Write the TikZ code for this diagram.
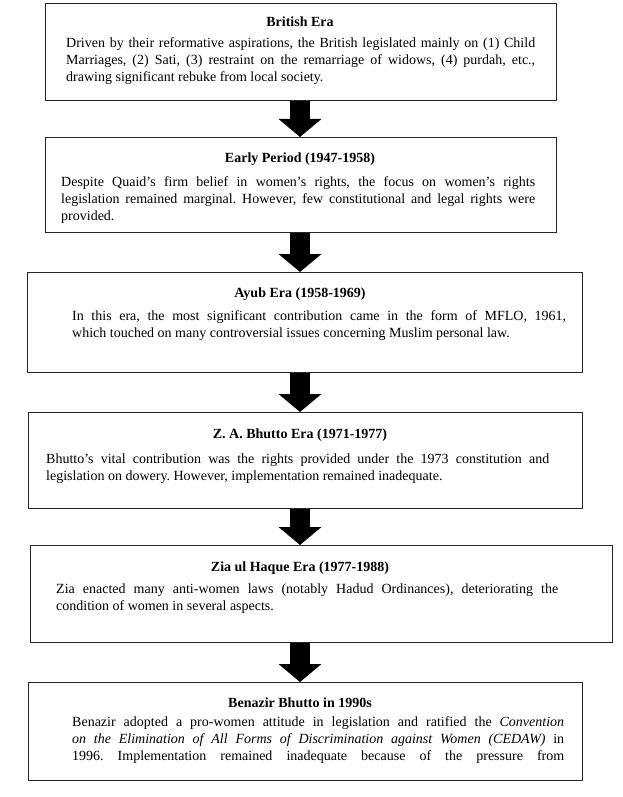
\documentclass[tikz,border=0pt]{standalone}
\usepackage{fontspec}
\setmainfont{Liberation Serif}
\usetikzlibrary{arrows.meta}
\frenchspacing
\newcommand{\jl}[2]{\makebox[#1][s]{#2}}
\begin{document}
\begin{tikzpicture}[x=1pt,y=-1pt,
  frame/.style={draw=black!85, line width=1.3pt, rectangle, inner sep=0pt, anchor=north west},
  ttl/.style={font=\fontsize{14}{17}\selectfont\bfseries, inner sep=0pt, anchor=base},
  bodytext/.style={font=\fontsize{14}{17}\selectfont\frenchspacing, inner sep=0pt, anchor=north west, align=left},
  bigarrow/.style={line width=20pt, -{Triangle[width=42pt,length=18pt]}, black}]
\useasboundingbox[fill=white] (0,0) rectangle (622,797);
\coordinate (ax) at (300,0);

% Box 1
\node[frame, minimum width=511pt, minimum height=97pt] (b1) at (45,3) {};
\node[ttl] (t1) at (300,27) {British Era};
\node[bodytext] (p1) at (66,37) {\jl{469pt}{Driven by their reformative aspirations, the British legislated mainly on (1) Child}\\
\jl{469pt}{Marriages, (2) Sati, (3) restraint on the remarriage of widows, (4) purdah, etc.,}\\
drawing significant rebuke from local society.};

% Box 2
\node[frame, minimum width=511pt, minimum height=95pt] (b2) at (45,137) {};
\node[ttl] (t2) at (300,162) {Early Period (1947-1958)};
\node[bodytext] (p2) at (61,176) {\jl{474pt}{Despite Quaid’s firm belief in women’s rights, the focus on women’s rights}\\
\jl{474pt}{legislation remained marginal. However, few constitutional and legal rights were}\\
provided.};

% Box 3
\node[frame, minimum width=555pt, minimum height=100pt] (b3) at (27,272) {};
\node[ttl] (t3) at (300,297) {Ayub Era (1958-1969)};
\node[bodytext] (p3) at (72,310) {\jl{494pt}{In this era, the most significant contribution came in the form of MFLO, 1961,}\\
which touched on many controversial issues concerning Muslim personal law.};

% Box 4
\node[frame, minimum width=554pt, minimum height=96pt] (b4) at (28,412) {};
\node[ttl] (t4) at (300,438) {Z. A. Bhutto Era (1971-1977)};
\node[bodytext] (p4) at (46,454) {\jl{503pt}{Bhutto’s vital contribution was the rights provided under the 1973 constitution and}\\
legislation on dowery. However, implementation remained inadequate.};

% Box 5
\node[frame, minimum width=582pt, minimum height=97pt] (b5) at (30,545) {};
\node[ttl] (t5) at (300,571) {Zia ul Haque Era (1977-1988)};
\node[bodytext] (p5) at (56,584) {\jl{502pt}{Zia enacted many anti-women laws (notably Hadud Ordinances), deteriorating the}\\
condition of women in several aspects.};

% Box 6
\node[frame, minimum width=554pt, minimum height=98pt] (b6) at (28,682) {};
\node[ttl] (t6) at (300,707) {Benazir Bhutto in 1990s};
\node[bodytext] (p6) at (72,716) {\jl{492pt}{Benazir adopted a pro-women attitude in legislation and ratified the \textit{Convention}}\\
\jl{492pt}{\textit{on the Elimination of All Forms of Discrimination against Women (CEDAW)} in}\\
\jl{492pt}{1996. Implementation remained inadequate because of the pressure from}};

% Arrows
\draw[bigarrow] (b1.south -| ax) -- (b2.north -| ax);
\draw[bigarrow] (b2.south -| ax) -- (b3.north -| ax);
\draw[bigarrow] (b3.south -| ax) -- (b4.north -| ax);
\draw[bigarrow] (b4.south -| ax) -- (b5.north -| ax);
\draw[bigarrow] (b5.south -| ax) -- (b6.north -| ax);
\end{tikzpicture}
\end{document}
